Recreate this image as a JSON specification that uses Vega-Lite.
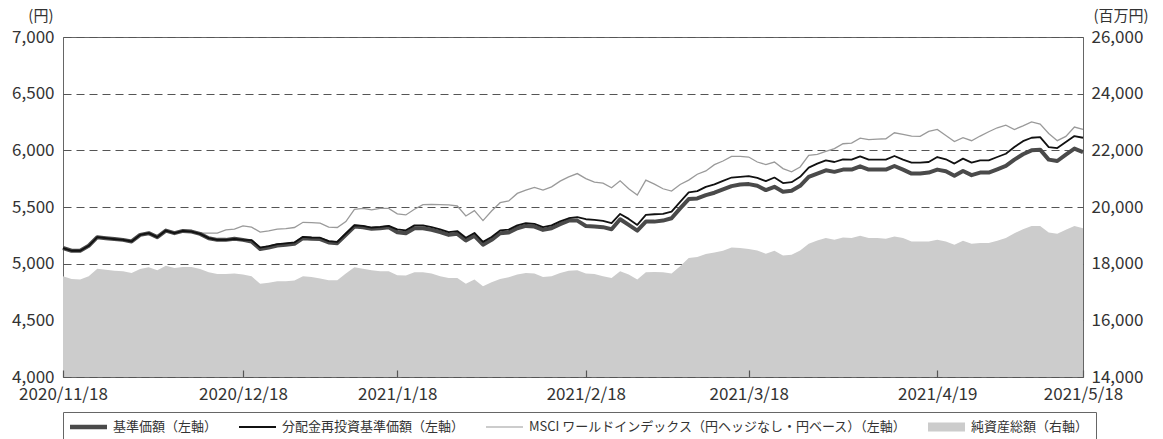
{
"$schema": "https://vega.github.io/schema/vega-lite/v6.json",
"width": 1020, "height": 340,
"autosize": {"type": "none"},
"padding": {"left": 63, "top": 37, "right": 80, "bottom": 62},
"background": "white",
"config": {"font": "Noto Sans CJK JP", "view": {"stroke": "#666", "strokeWidth": 1}},
"data": {"values": [
{"d":"2020/11/18","a":5138,"b":5138,"m":5138,"n":17554},
{"d":"2020/11/19","a":5114,"b":5114,"m":5114,"n":17463},
{"d":"2020/11/20","a":5114,"b":5114,"m":5114,"n":17439},
{"d":"2020/11/24","a":5158,"b":5158,"m":5160,"n":17554},
{"d":"2020/11/25","a":5234,"b":5234,"m":5236,"n":17825},
{"d":"2020/11/26","a":5225,"b":5225,"m":5228,"n":17789},
{"d":"2020/11/27","a":5217,"b":5217,"m":5220,"n":17754},
{"d":"2020/11/30","a":5210,"b":5210,"m":5212,"n":17730},
{"d":"2020/12/1","a":5196,"b":5196,"m":5198,"n":17674},
{"d":"2020/12/2","a":5254,"b":5254,"m":5256,"n":17814},
{"d":"2020/12/3","a":5269,"b":5269,"m":5272,"n":17870},
{"d":"2020/12/4","a":5234,"b":5234,"m":5238,"n":17765},
{"d":"2020/12/7","a":5292,"b":5292,"m":5296,"n":17930},
{"d":"2020/12/8","a":5269,"b":5269,"m":5274,"n":17849},
{"d":"2020/12/9","a":5289,"b":5289,"m":5294,"n":17884},
{"d":"2020/12/10","a":5283,"b":5283,"m":5290,"n":17884},
{"d":"2020/12/11","a":5263,"b":5263,"m":5270,"n":17814},
{"d":"2020/12/14","a":5225,"b":5225,"m":5269,"n":17695},
{"d":"2020/12/15","a":5210,"b":5210,"m":5269,"n":17639},
{"d":"2020/12/16","a":5210,"b":5210,"m":5298,"n":17639},
{"d":"2020/12/17","a":5219,"b":5219,"m":5304,"n":17649},
{"d":"2020/12/18","a":5210,"b":5210,"m":5333,"n":17614},
{"d":"2020/12/21","a":5196,"b":5208,"m":5322,"n":17554},
{"d":"2020/12/22","a":5129,"b":5141,"m":5278,"n":17288},
{"d":"2020/12/23","a":5143,"b":5155,"m":5289,"n":17323},
{"d":"2020/12/24","a":5160,"b":5172,"m":5304,"n":17379},
{"d":"2020/12/25","a":5167,"b":5179,"m":5310,"n":17379},
{"d":"2020/12/28","a":5175,"b":5187,"m":5319,"n":17403},
{"d":"2020/12/29","a":5225,"b":5237,"m":5365,"n":17554},
{"d":"2020/12/30","a":5219,"b":5231,"m":5362,"n":17533},
{"d":"2021/1/4","a":5217,"b":5229,"m":5357,"n":17480},
{"d":"2021/1/5","a":5187,"b":5199,"m":5322,"n":17414},
{"d":"2021/1/6","a":5181,"b":5193,"m":5319,"n":17414},
{"d":"2021/1/7","a":5254,"b":5266,"m":5371,"n":17649},
{"d":"2021/1/8","a":5327,"b":5339,"m":5480,"n":17870},
{"d":"2021/1/12","a":5322,"b":5334,"m":5488,"n":17825},
{"d":"2021/1/13","a":5307,"b":5319,"m":5474,"n":17765},
{"d":"2021/1/14","a":5313,"b":5325,"m":5488,"n":17730},
{"d":"2021/1/15","a":5322,"b":5334,"m":5488,"n":17730},
{"d":"2021/1/18","a":5278,"b":5303,"m":5439,"n":17590},
{"d":"2021/1/19","a":5269,"b":5294,"m":5430,"n":17579},
{"d":"2021/1/20","a":5313,"b":5338,"m":5480,"n":17695},
{"d":"2021/1/21","a":5313,"b":5338,"m":5521,"n":17695},
{"d":"2021/1/22","a":5298,"b":5323,"m":5524,"n":17649},
{"d":"2021/1/25","a":5278,"b":5303,"m":5521,"n":17554},
{"d":"2021/1/26","a":5254,"b":5279,"m":5518,"n":17498},
{"d":"2021/1/27","a":5263,"b":5288,"m":5509,"n":17498},
{"d":"2021/1/28","a":5204,"b":5229,"m":5421,"n":17288},
{"d":"2021/1/29","a":5246,"b":5271,"m":5468,"n":17439},
{"d":"2021/2/1","a":5167,"b":5192,"m":5380,"n":17204},
{"d":"2021/2/2","a":5210,"b":5235,"m":5465,"n":17344},
{"d":"2021/2/3","a":5269,"b":5294,"m":5538,"n":17463},
{"d":"2021/2/4","a":5275,"b":5300,"m":5553,"n":17519},
{"d":"2021/2/5","a":5313,"b":5338,"m":5620,"n":17614},
{"d":"2021/2/8","a":5333,"b":5358,"m":5649,"n":17674},
{"d":"2021/2/9","a":5327,"b":5352,"m":5673,"n":17649},
{"d":"2021/2/10","a":5298,"b":5323,"m":5649,"n":17533},
{"d":"2021/2/12","a":5313,"b":5338,"m":5678,"n":17554},
{"d":"2021/2/15","a":5348,"b":5373,"m":5728,"n":17674},
{"d":"2021/2/16","a":5380,"b":5401,"m":5765,"n":17750},
{"d":"2021/2/17","a":5380,"b":5410,"m":5795,"n":17765},
{"d":"2021/2/18","a":5333,"b":5392,"m":5751,"n":17649},
{"d":"2021/2/19","a":5327,"b":5386,"m":5719,"n":17639},
{"d":"2021/2/22","a":5322,"b":5377,"m":5711,"n":17554},
{"d":"2021/2/24","a":5304,"b":5357,"m":5670,"n":17498},
{"d":"2021/2/25","a":5392,"b":5439,"m":5731,"n":17730},
{"d":"2021/2/26","a":5342,"b":5395,"m":5661,"n":17614},
{"d":"2021/3/1","a":5292,"b":5342,"m":5605,"n":17439},
{"d":"2021/3/2","a":5371,"b":5430,"m":5737,"n":17695},
{"d":"2021/3/3","a":5371,"b":5436,"m":5702,"n":17709},
{"d":"2021/3/4","a":5380,"b":5439,"m":5661,"n":17695},
{"d":"2021/3/5","a":5401,"b":5459,"m":5640,"n":17649},
{"d":"2021/3/8","a":5488,"b":5546,"m":5699,"n":17905},
{"d":"2021/3/9","a":5570,"b":5629,"m":5737,"n":18200},
{"d":"2021/3/10","a":5576,"b":5640,"m":5789,"n":18235},
{"d":"2021/3/11","a":5605,"b":5678,"m":5818,"n":18340},
{"d":"2021/3/12","a":5626,"b":5699,"m":5874,"n":18397},
{"d":"2021/3/15","a":5655,"b":5731,"m":5906,"n":18456},
{"d":"2021/3/16","a":5684,"b":5760,"m":5947,"n":18572},
{"d":"2021/3/17","a":5699,"b":5766,"m":5947,"n":18551},
{"d":"2021/3/18","a":5702,"b":5772,"m":5941,"n":18516},
{"d":"2021/3/19","a":5687,"b":5757,"m":5897,"n":18467},
{"d":"2021/3/22","a":5649,"b":5728,"m":5874,"n":18351},
{"d":"2021/3/23","a":5678,"b":5760,"m":5897,"n":18456},
{"d":"2021/3/24","a":5634,"b":5711,"m":5839,"n":18291},
{"d":"2021/3/25","a":5643,"b":5719,"m":5810,"n":18316},
{"d":"2021/3/26","a":5687,"b":5766,"m":5853,"n":18467},
{"d":"2021/3/29","a":5766,"b":5848,"m":5956,"n":18702},
{"d":"2021/3/30","a":5795,"b":5883,"m":5965,"n":18818},
{"d":"2021/3/31","a":5824,"b":5912,"m":5990,"n":18902},
{"d":"2021/4/1","a":5810,"b":5897,"m":6015,"n":18842},
{"d":"2021/4/2","a":5830,"b":5921,"m":6058,"n":18923},
{"d":"2021/4/5","a":5830,"b":5918,"m":6064,"n":18902},
{"d":"2021/4/6","a":5859,"b":5947,"m":6108,"n":18983},
{"d":"2021/4/7","a":5830,"b":5918,"m":6094,"n":18902},
{"d":"2021/4/8","a":5830,"b":5918,"m":6099,"n":18902},
{"d":"2021/4/9","a":5830,"b":5918,"m":6102,"n":18877},
{"d":"2021/4/12","a":5862,"b":5950,"m":6155,"n":18958},
{"d":"2021/4/13","a":5830,"b":5918,"m":6140,"n":18902},
{"d":"2021/4/14","a":5795,"b":5892,"m":6126,"n":18783},
{"d":"2021/4/15","a":5795,"b":5892,"m":6123,"n":18783},
{"d":"2021/4/16","a":5804,"b":5897,"m":6167,"n":18783},
{"d":"2021/4/19","a":5830,"b":5941,"m":6184,"n":18842},
{"d":"2021/4/20","a":5816,"b":5921,"m":6131,"n":18783},
{"d":"2021/4/21","a":5775,"b":5883,"m":6078,"n":18667},
{"d":"2021/4/22","a":5818,"b":5927,"m":6111,"n":18807},
{"d":"2021/4/23","a":5781,"b":5892,"m":6085,"n":18702},
{"d":"2021/4/26","a":5804,"b":5912,"m":6126,"n":18726},
{"d":"2021/4/27","a":5804,"b":5912,"m":6164,"n":18726},
{"d":"2021/4/28","a":5833,"b":5941,"m":6199,"n":18807},
{"d":"2021/4/30","a":5862,"b":5970,"m":6222,"n":18902},
{"d":"2021/5/6","a":5918,"b":6029,"m":6184,"n":19077},
{"d":"2021/5/7","a":5965,"b":6081,"m":6216,"n":19218},
{"d":"2021/5/10","a":6000,"b":6111,"m":6251,"n":19333},
{"d":"2021/5/11","a":6006,"b":6117,"m":6231,"n":19333},
{"d":"2021/5/12","a":5918,"b":6029,"m":6149,"n":19098},
{"d":"2021/5/13","a":5906,"b":6020,"m":6085,"n":19053},
{"d":"2021/5/14","a":5962,"b":6073,"m":6123,"n":19193},
{"d":"2021/5/17","a":6015,"b":6126,"m":6205,"n":19333},
{"d":"2021/5/18","a":5985,"b":6111,"m":6184,"n":19253}
]},
"encoding": {
  "x": {"field": "d", "type": "ordinal", "sort": null, "scale": {"type": "point", "padding": 0},
    "axis": {"values": ["2020/11/18","2020/12/18","2021/1/18","2021/2/18","2021/3/18","2021/4/19","2021/5/18"],
      "title": null, "labelAngle": 0, "grid": false, "domain": false, "ticks": true, "tickSize": 7, "offset": -7, "tickColor": "#555", "tickWidth": 1.2,
      "labelPadding": 9, "labelFontSize": 17, "labelColor": "#333", "labelOverlap": false, "zindex": 2}}
},
"layer": [
  {"mark": {"type": "area", "opacity": 1, "clip": true},
   "encoding": {
     "y": {"field": "n", "type": "quantitative", "scale": {"domain": [14000, 26000], "nice": false, "zero": false},
       "axis": {"orient": "right", "values": [14000,16000,18000,20000,22000,24000,26000], "format": ",.0f", "grid": false, "domain": false, "ticks": false,
         "labelPadding": 8, "labelFontSize": 17, "labelColor": "#333",
         "title": "(百万円)", "titleAngle": 0, "titleAlign": "left", "titleBaseline": "middle", "titleX": 10, "titleY": -22,
         "titleFontSize": 15, "titleFontWeight": "normal", "titleColor": "#333"}},
     "color": {"datum": "純資産総額（右軸）", "type": "nominal",
       "scale": {"domain": ["基準価額（左軸）", "分配金再投資基準価額（左軸）", "MSCI ワールドインデックス（円ヘッジなし・円ベース）（左軸）", "純資産総額（右軸）"],
                 "range": ["#4a4a4a", "#111111", "#9a9a9a", "#cccccc"]},
       "legend": {"orient": "none", "legendX": 0, "legendY": 375, "direction": "horizontal", "columns": 4, "title": null,
         "symbolType": "stroke", "symbolSize": 1369, "clipHeight": 16, "labelFontSize": 13, "labelColor": "#333",
         "labelOffset": 5, "symbolOffset": -1, "columnPadding": 21, "padding": 7, "strokeColor": "#666", "fillColor": "white", "labelLimit": 600,
         "symbolStrokeWidth": {"expr": "(datum.index === 0 ? 4.5 : (datum.index === 1 ? 2 : (datum.index === 3 ? 9 : 1.2)))"}}}
   }},
  {"layer": [
    {"mark": {"type": "line", "strokeWidth": 1.3},
     "encoding": {
       "y": {"field": "m", "type": "quantitative", "scale": {"domain": [4000, 7000], "nice": false, "zero": false},
         "axis": {"orient": "left", "values": [4000,4500,5000,5500,6000,6500,7000], "format": ",.0f", "grid": true, "gridDash": [8,5], "gridColor": "#555", "gridWidth": 1,
           "domain": false, "ticks": false, "labelPadding": 9, "labelFontSize": 17, "labelColor": "#333",
           "title": "(円)", "titleAngle": 0, "titleAlign": "right", "titleBaseline": "middle", "titleX": -10, "titleY": -22,
           "titleFontSize": 15, "titleFontWeight": "normal", "titleColor": "#333"}},
       "color": {"datum": "MSCI ワールドインデックス（円ヘッジなし・円ベース）（左軸）", "type": "nominal"}}},
    {"mark": {"type": "line", "strokeWidth": 4, "strokeJoin": "round"},
     "encoding": {
       "y": {"field": "a", "type": "quantitative", "scale": {"domain": [4000, 7000], "nice": false, "zero": false},
         "axis": {"orient": "left", "values": [4000,4500,5000,5500,6000,6500,7000], "format": ",.0f", "grid": true, "gridDash": [8,5], "gridColor": "#555", "gridWidth": 1,
           "domain": false, "ticks": false, "labelPadding": 9, "labelFontSize": 17, "labelColor": "#333",
           "title": "(円)", "titleAngle": 0, "titleAlign": "right", "titleBaseline": "middle", "titleX": -10, "titleY": -22,
           "titleFontSize": 15, "titleFontWeight": "normal", "titleColor": "#333"}},
       "color": {"datum": "基準価額（左軸）", "type": "nominal"}}},
    {"mark": {"type": "line", "strokeWidth": 1.8, "strokeJoin": "round"},
     "encoding": {
       "y": {"field": "b", "type": "quantitative", "scale": {"domain": [4000, 7000], "nice": false, "zero": false},
         "axis": {"orient": "left", "values": [4000,4500,5000,5500,6000,6500,7000], "format": ",.0f", "grid": true, "gridDash": [8,5], "gridColor": "#555", "gridWidth": 1,
           "domain": false, "ticks": false, "labelPadding": 9, "labelFontSize": 17, "labelColor": "#333",
           "title": "(円)", "titleAngle": 0, "titleAlign": "right", "titleBaseline": "middle", "titleX": -10, "titleY": -22,
           "titleFontSize": 15, "titleFontWeight": "normal", "titleColor": "#333"}},
       "color": {"datum": "分配金再投資基準価額（左軸）", "type": "nominal"}}}
  ]}
],
"resolve": {"scale": {"y": "independent"}}
}
